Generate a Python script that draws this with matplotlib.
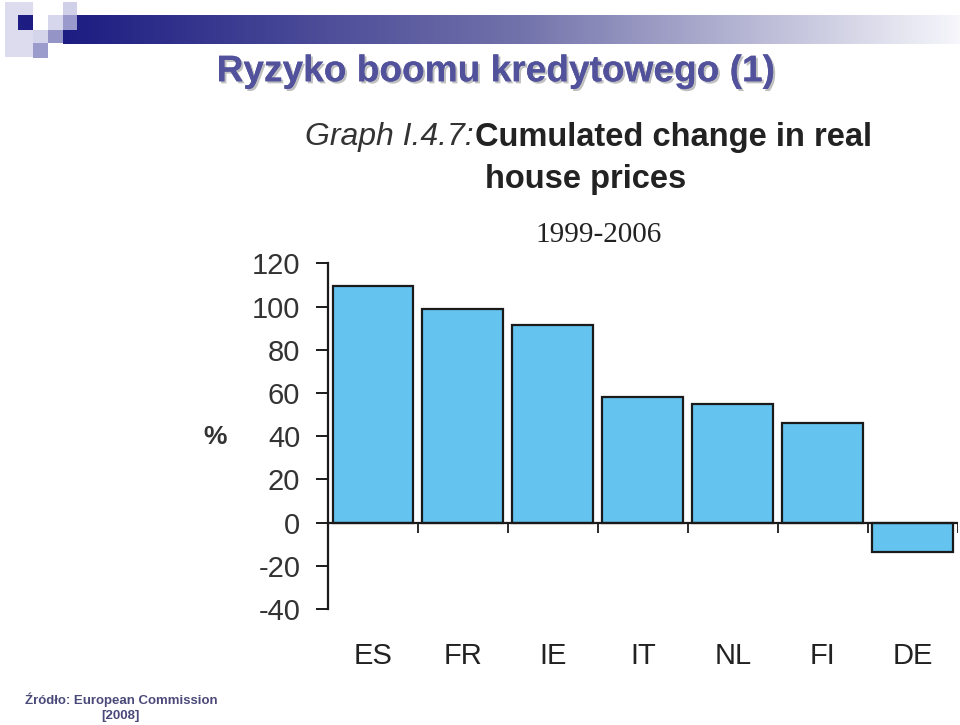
import numpy as np
import matplotlib
matplotlib.use("Agg")
import matplotlib.pyplot as plt
import matplotlib.patheffects as pe
from matplotlib.colors import LinearSegmentedColormap

countries = ["ES", "FR", "IE", "IT", "NL", "FI", "DE"]
change = [109.5, 99.0, 91.5, 58.0, 55.0, 46.0, -13.5]
yticks = [-40, -20, 0, 20, 40, 60, 80, 100, 120]

SANS = ["Liberation Sans", "DejaVu Sans"]

fig = plt.figure(figsize=(9.6, 7.25), dpi=100)

# ---- slide decoration (pixel coords) ----
bg = fig.add_axes([0, 0, 1, 1], zorder=0)
bg.set_xlim(0, 960); bg.set_ylim(725, 0); bg.axis("off")
cmap = LinearSegmentedColormap.from_list("hdr", ["#1c1c82", "#7070aa", "#f6f6fb"])
bg.imshow(np.linspace(0, 1, 256)[None, :], cmap=cmap, aspect="auto",
          extent=(63, 960, 44, 15), zorder=1)
squares = [  # x, y, w, h, colour
    (5, 2, 28, 55, "#dcdcee"),
    (18, 15, 15, 15, "#1c1c82"),
    (33, 30, 15, 13, "#d4d4ea"),
    (33, 43, 15, 15, "#9c9ccc"),
    (48, 15, 15, 15, "#d6d6ec"),
    (48, 30, 15, 13, "#9494c6"),
    (63, 2, 14, 13, "#d0d0e8"),
    (63, 15, 14, 15, "#9a9acc"),
]
for x, y, w, h, c in squares:
    bg.add_patch(plt.Rectangle((x, y), w, h, color=c, lw=0, zorder=2))

fig.text(0.517, 0.901, "Ryzyko boomu kredytowego (1)", ha="center", va="center",
         fontsize=26.7, fontweight="bold", color="#52529c", family=SANS,
         path_effects=[pe.withSimplePatchShadow(offset=(1.5, -1.5),
                                                shadow_rgbFace="#b0b0b0", alpha=0.8),
                       pe.Normal()])

fig.text(0.126, 0.035, "Źródło: European Commission", ha="center", va="center",
         fontsize=9.5, fontweight="bold", color="#4a4a7a", family=SANS)
fig.text(0.125, 0.012, "[2008]", ha="center", va="center",
         fontsize=9.5, fontweight="bold", color="#4a4a7a", family=SANS)

# ---- chart title ----
fig.text(0.493, 0.811, "Graph I.4.7:", ha="right", va="center", fontsize=23,
         style="italic", color="#333333", family=SANS)
fig.text(0.495, 0.811, "Cumulated change in real", ha="left", va="center",
         fontsize=23.5, fontweight="bold", color="#222222", family=SANS)
fig.text(0.610, 0.752, "house prices", ha="center", va="center",
         fontsize=23.5, fontweight="bold", color="#222222", family=SANS)
fig.text(0.623, 0.676, "1999-2006", ha="center", va="center", fontsize=21,
         color="#222222", family=["Liberation Serif", "DejaVu Serif"])

# ---- bar chart ----
ax = fig.add_axes([0.3417, 0.16, 0.656, 0.4766], zorder=1)
ax.patch.set_alpha(0)
x = np.arange(len(countries))
ax.bar(x, change, width=0.9, color="#64c3ef", edgecolor="#1a1a1a", lw=1.6)
ax.axhline(0, color="#1a1a1a", lw=1.6, xmin=0, xmax=1)
ax.vlines(np.arange(len(countries)) + 0.5, -5, 0, color="#1a1a1a", lw=1.3)
ax.set_xlim(-0.5, len(countries) - 0.5)
ax.set_ylim(-40, 120)
for s in ["top", "right", "bottom"]:
    ax.spines[s].set_visible(False)
ax.spines["left"].set_linewidth(1.6)
ax.spines["left"].set_color("#1a1a1a")
ax.set_yticks(yticks)
ax.set_yticklabels([str(v) for v in yticks], family=SANS, fontsize=21,
                   color="#333333")
ax.tick_params(axis="y", length=9, width=1.4, pad=11, color="#1a1a1a")
ax.set_xticks(x)
ax.set_xticklabels(countries, family=SANS, fontsize=21, color="#222222")
ax.tick_params(axis="x", length=0, pad=24)
fig.text(0.224, 0.397, "%", ha="center", va="center", fontsize=19,
         fontweight="bold", color="#333333", family=SANS)

fig.savefig("out.png", dpi=100)
